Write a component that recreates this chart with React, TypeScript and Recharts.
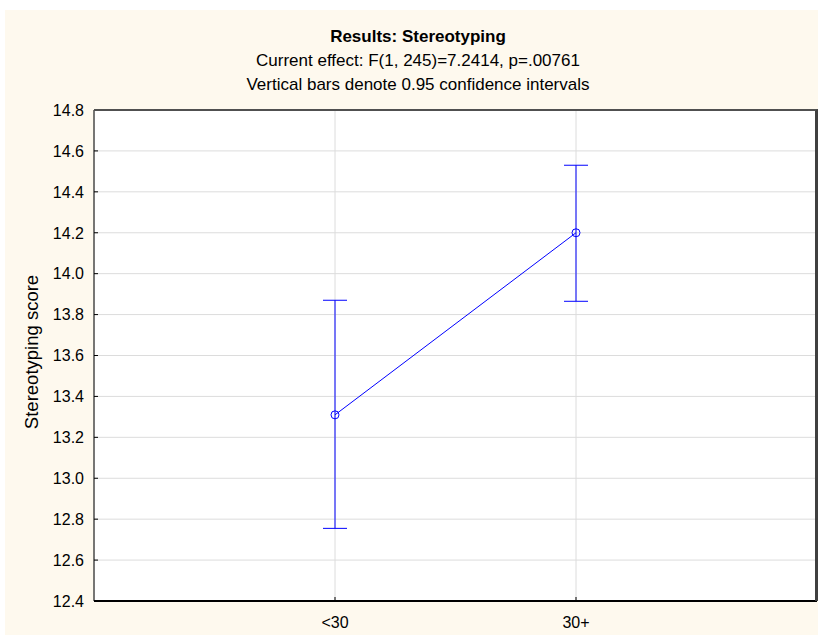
import { LineChart, Line, XAxis, YAxis, CartesianGrid, ErrorBar } from 'recharts'

const categories = ['<30', '30+']
const means = [13.31, 14.2]
const ciLow = [12.755, 13.865]
const ciHigh = [13.87, 14.53]
const yTicks = [12.4, 12.6, 12.8, 13.0, 13.2, 13.4, 13.6, 13.8, 14.0, 14.2, 14.4, 14.6, 14.8]

const title = 'Results: Stereotyping'
const subtitle = 'Current effect: F(1, 245)=7.2414, p=.00761'
const note = 'Vertical bars denote 0.95 confidence intervals'
const yLabel = 'Stereotyping score'

const data = categories.map((group, i) => ({
  group,
  mean: means[i],
  err: [means[i] - ciLow[i], ciHigh[i] - means[i]],
}))

const FONT = '"Liberation Sans", Arial, sans-serif'
const BLUE = '#0000ff'
const CREAM = '#fef9ee'

const YTick = ({ x, y, payload }: any) => (
  <g>
    <line x1={x + 10} x2={x + 14} y1={y} y2={y} stroke="#000" />
    <text x={x} y={y} dy="0.36em" textAnchor="end" fontSize={16} fill="#000" fontFamily={FONT}>
      {Number(payload.value).toFixed(1)}
    </text>
  </g>
)

const XTick = ({ x, y, payload }: any) => (
  <g>
    <line x1={x} x2={x} y1={y - 21} y2={y - 25} stroke="#000" />
    <text x={x} y={y} dy="0.36em" textAnchor="middle" fontSize={16} fill="#000" fontFamily={FONT}>
      {payload.value}
    </text>
  </g>
)

export default function App() {
  return (
    <div style={{ position: 'absolute', left: 0, top: 0, width: 818, height: 635, background: '#fff', fontFamily: FONT }}>
      <div style={{ position: 'absolute', left: 5, top: 10, width: 813, height: 625, background: CREAM }}>
        <LineChart width={813} height={625} data={data} margin={{ top: 100, right: 1, bottom: 0, left: 0 }}>
          <CartesianGrid stroke="#dcdcdc" fill="#fff" />
          <XAxis
            dataKey="group"
            type="category"
            padding={{ left: 241, right: 241 }}
            height={34}
            axisLine={{ stroke: '#000', strokeWidth: 2 }}
            tickLine={false}
            tickSize={0}
            tickMargin={21}
            tick={<XTick />}
          />
          <YAxis
            width={89}
            domain={[12.4, 14.8]}
            ticks={yTicks}
            allowDataOverflow
            axisLine={{ stroke: '#000' }}
            tickLine={false}
            tickSize={0}
            tickMargin={10}
            tick={<YTick />}
          />
          <Line
            dataKey="mean"
            type="linear"
            stroke={BLUE}
            strokeWidth={1}
            dot={{ r: 4, fill: 'none', stroke: BLUE, strokeWidth: 1 }}
            activeDot={false}
            isAnimationActive={false}
          >
            <ErrorBar dataKey="err" direction="y" width={12} stroke={BLUE} strokeWidth={1} isAnimationActive={false} />
          </Line>
        </LineChart>
      </div>
      <div
        style={{
          position: 'absolute', left: 94, top: 109, width: 724, height: 492,
          boxSizing: 'border-box', borderTop: '2px solid #505050', borderRight: '3px solid #404040',
          pointerEvents: 'none',
        }}
      />
      <svg width={818} height={635} style={{ position: 'absolute', left: 0, top: 0, pointerEvents: 'none' }}>
        <text x={418} y={42} textAnchor="middle" fontSize={17} fontWeight="bold" fill="#000" fontFamily={FONT}>{title}</text>
        <text x={418} y={66} textAnchor="middle" fontSize={17} fill="#000" fontFamily={FONT}>{subtitle}</text>
        <text x={418} y={90} textAnchor="middle" fontSize={17} fill="#000" fontFamily={FONT}>{note}</text>
        <text x={38} y={352} transform="rotate(-90 38 352)" textAnchor="middle" fontSize={18.5} fill="#000" fontFamily={FONT}>{yLabel}</text>
      </svg>
    </div>
  )
}
